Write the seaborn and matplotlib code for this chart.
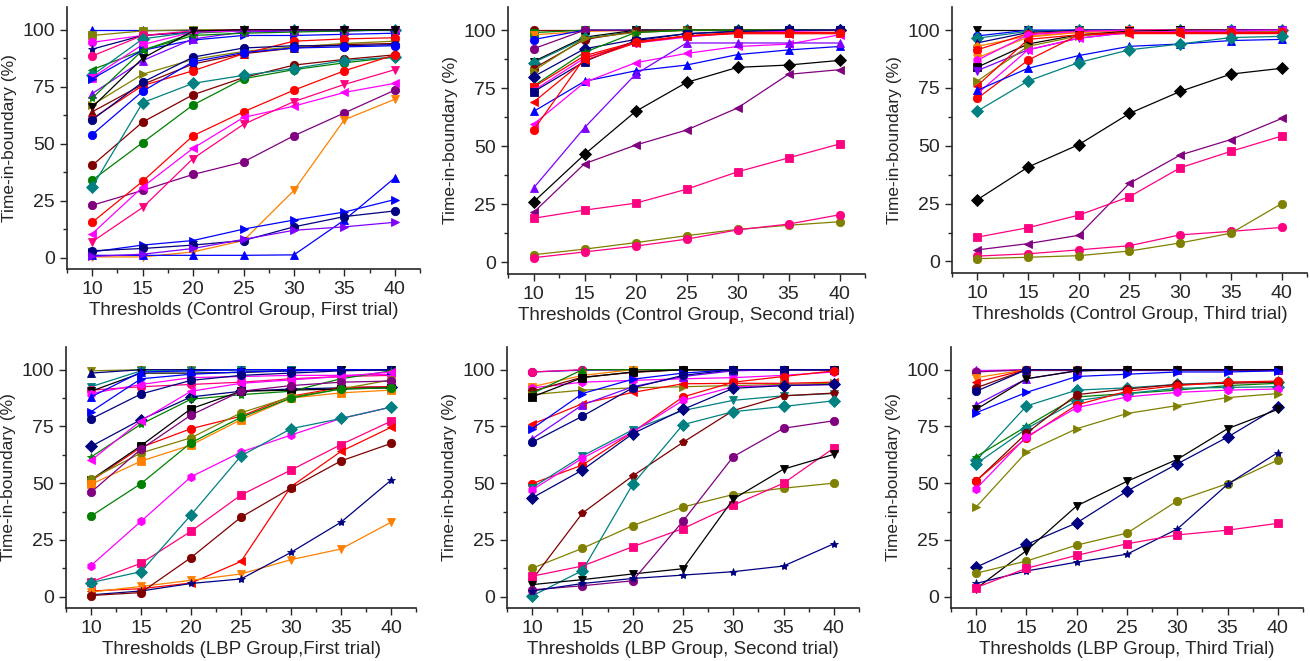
import matplotlib
matplotlib.use('Agg')
import matplotlib.pyplot as plt
import seaborn as sns
import pandas as pd
from matplotlib.ticker import MultipleLocator

thresholds = [10, 15, 20, 25, 30, 35, 40]

COLORS = {
    'black': '#000000', 'red': '#FF0000', 'blue': '#0000FF', 'magenta': '#FF00FF',
    'olive': '#808000', 'navy': '#000080', 'purple': '#800080', 'wine': '#800000',
    'cyan': '#008080', 'green': '#008000', 'orange': '#FF8000', 'violet': '#8000FF',
    'pink': '#FF0080',
}

# Control group, first trial
ctrl_first = [
    [100, 100, 100, 100, 100, 100, 100],
    [97.5, 99.5, 100, 100, 100, 100, 100],
    [94.5, 97.5, 99, 100, 100, 100, 100],
    [91.5, 97.5, 99, 100, 100, 100, 100],
    [88.5, 97.5, 99.5, 100, 100, 100, 100],
    [82.5, 91, 98.5, 99.5, 100, 100, 100],
    [80, 96, 99, 99.5, 100, 100, 100],
    [79, 93.5, 99, 99.5, 100, 100, 100],
    [78.5, 91, 95.5, 97.5, 97.5, 98, 98.5],
    [72, 86.5, 96, 99, 99.5, 99.5, 100],
    [70, 91, 97.5, 98.5, 99, 99.5, 100],
    [67, 80.5, 87, 90.5, 92.5, 94, 95],
    [66, 87.5, 99.5, 100, 100, 100, 100],
    [64, 76, 85, 89.5, 92, 93.5, 94],
    [61, 75.5, 82, 89.5, 95, 96, 96.5],
    [60.5, 77, 88, 92, 93, 93, 93.5],
    [54, 73, 86, 90, 92, 92.5, 93],
    [40.5, 59.5, 71.5, 79, 84.5, 87, 89],
    [34, 50.5, 67, 78.5, 82.5, 85.5, 88],
    [31, 68, 76.5, 80, 83, 86.5, 88],
    [23, 29.5, 36.5, 42, 53.5, 63.5, 73.5],
    [15.5, 33.5, 53.5, 64, 73.5, 82, 89],
    [10.5, 31, 48, 61.5, 66.5, 72.5, 76.5],
    [7, 22, 43.5, 58.5, 68.5, 76, 82.5],
    [0.3, 0.3, 2.5, 7.5, 29.5, 60.5, 69.5],
    [1, 1, 1, 1, 1.2, 16.5, 35],
    [2.5, 5.5, 7.5, 12.5, 16.5, 20, 25.5],
    [3, 4, 5.5, 7.5, 13.5, 18, 20.5],
    [0.5, 1.5, 4, 8, 12, 13.5, 15.5],
]
ctrl_first_style = [
    ('blue', '^'), ('olive', 's'), ('magenta', 'o'), ('navy', '*'), ('pink', 'o'),
    ('green', '<'), ('cyan', 'D'), ('magenta', 's'), ('blue', '>'), ('violet', '^'),
    ('green', '*'), ('olive', '>'), ('black', 'v'), ('wine', '^'), ('red', 'o'),
    ('navy', 'o'), ('blue', 'o'), ('wine', 'o'), ('green', 'o'), ('cyan', 'D'),
    ('purple', 'o'), ('red', 'o'), ('magenta', '<'), ('pink', 'v'), ('orange', 'v'),
    ('blue', '^'), ('blue', '>'), ('navy', 'o'), ('violet', '>'),
]

# Control group, second trial
ctrl_second = [
    [100, 100, 100, 100, 100, 100, 100],
    [99, 100, 100, 100, 100, 100, 100],
    [98, 99.5, 100, 100, 100, 100, 100],
    [96, 100, 100, 100, 100, 100, 100],
    [92, 100, 100, 100, 100, 100, 100],
    [86.5, 97, 100, 100, 100, 100, 100],
    [86, 96.5, 99.5, 100, 100, 100, 100],
    [83.5, 96, 99.5, 100, 100, 100, 100],
    [82.5, 96.5, 99, 100, 100, 100, 100],
    [80, 92, 96, 98.5, 99.5, 100, 100],
    [76, 90.5, 99, 100, 100, 100, 100],
    [75.5, 89, 95, 97.5, 99, 99, 99],
    [74, 88, 94.5, 97, 99, 99.5, 100],
    [73.5, 86.5, 95.5, 98.5, 99.5, 100, 100],
    [69, 87, 94.5, 97.5, 98.5, 98.5, 98.5],
    [65, 78, 82.5, 85, 89.5, 91.5, 93],
    [59.5, 77.5, 86, 90, 93, 94, 98],
    [57, 88, 95, 97.5, 99, 99, 99],
    [32, 58, 81, 94.5, 94.5, 94.5, 94.5],
    [26, 46.5, 65, 77.5, 84, 85, 87],
    [21.5, 42.5, 50.5, 57, 66.5, 81, 83],
    [19, 22.5, 25.5, 31.5, 39, 45, 51],
    [3.3, 5.7, 8.5, 11.5, 14.2, 16, 17.5],
    [2, 4.5, 7, 10, 14, 16.5, 20.5],
]
ctrl_second_style = [
    ('wine', 'o'), ('green', 's'), ('orange', 'v'), ('blue', 'o'), ('purple', 'o'),
    ('black', 'v'), ('cyan', 'D'), ('wine', 'o'), ('olive', '>'), ('navy', 'D'),
    ('green', '*'), ('red', 's'), ('magenta', 'h'), ('navy', 's'), ('red', '<'),
    ('blue', '^'), ('magenta', '<'), ('red', 'o'), ('violet', '^'), ('black', 'D'),
    ('purple', '<'), ('pink', 's'), ('olive', 'o'), ('pink', 'o'),
]

# Control group, third trial
ctrl_third = [
    [100, 100, 100, 100, 100, 100, 100],
    [97.5, 100, 100, 100, 100, 100, 100],
    [96.5, 99.5, 100, 100, 100, 100, 100],
    [94.5, 99, 100, 100, 100, 100, 100],
    [93, 97.5, 99, 99.5, 100, 100, 100],
    [91.5, 98.5, 99.5, 100, 100, 100, 100],
    [88, 97, 99, 100, 100, 100, 100],
    [87, 98, 99.5, 100, 100, 100, 100],
    [84, 94, 98, 99.5, 100, 100, 100],
    [82.5, 91.5, 96.5, 99, 99.5, 100, 100],
    [78, 93, 97.5, 99, 99.5, 99.5, 99.5],
    [76, 96, 98, 98.5, 98.5, 98.5, 98.5],
    [72.5, 91.5, 96.5, 99, 99.5, 99.5, 100],
    [70.5, 87, 98, 99, 99, 99, 99],
    [74, 83.5, 89, 93, 94, 95.5, 96],
    [65, 78, 86, 91.5, 94, 96.8, 97.3],
    [26.7, 40.8, 50.5, 64, 73.5, 81, 83.5],
    [5, 7.7, 11.3, 33.8, 46, 52.7, 61.8],
    [10.5, 14.6, 20, 28, 40.5, 47.6, 54.2],
    [2.3, 3.3, 5, 6.8, 11.5, 13, 14.7],
    [1.2, 1.8, 2.5, 4.5, 8, 12.2, 25],
]
ctrl_third_style = [
    ('black', 'v'), ('blue', 'o'), ('cyan', 'D'), ('navy', '^'), ('orange', 'p'),
    ('red', 'o'), ('orange', 'v'), ('magenta', 'h'), ('black', 's'), ('violet', 'v'),
    ('olive', '>'), ('red', '<'), ('magenta', '<'), ('red', 'o'), ('blue', '^'),
    ('cyan', 'D'), ('black', 'D'), ('purple', '<'), ('pink', 's'), ('pink', 'o'),
    ('olive', 'o'),
]

# LBP group, first trial
lbp_first = [
    [99.5, 100, 100, 100, 100, 100, 100],
    [98.5, 100, 100, 100, 100, 100, 100],
    [92.5, 99.5, 99.5, 100, 100, 100, 100],
    [91, 92.5, 93.5, 94.5, 96, 97, 97.5],
    [90.5, 98.5, 98.5, 98.8, 99.5, 100, 100],
    [89.5, 93.5, 96.5, 97, 97.5, 97.5, 98],
    [88, 99, 99.5, 100, 100, 100, 100],
    [81.5, 96, 98, 99, 99.5, 100, 100],
    [78.3, 89.3, 95.3, 97.5, 98.5, 99.5, 100],
    [66.2, 78, 88, 90.5, 91.5, 92, 92.5],
    [61.5, 76, 87, 89, 90.5, 96, 99.5],
    [60, 77.5, 90.5, 94, 95.5, 97, 99],
    [51, 65.8, 74, 79.5, 88.3, 92.2, 92.5],
    [51.5, 66.5, 82.8, 90.5, 91, 91.5, 92],
    [51.8, 63.3, 70, 81, 88, 91.5, 95.5],
    [49.5, 59.7, 66.8, 78, 87.5, 89.8, 91],
    [46, 65, 80, 90.5, 93, 94.5, 95],
    [35.5, 49.8, 67.8, 79, 87.5, 91.5, 92],
    [13.7, 33.2, 52.8, 63.7, 71.2, 78.5, 83.5],
    [6.5, 14.7, 28.8, 44.8, 55.8, 67, 77.3],
    [6.2, 11, 36, 62, 74, 78.5, 83.5],
    [2.5, 3.5, 6, 15.5, 48.5, 64, 74.6],
    [2, 4.5, 7.2, 10, 16.3, 21, 32.8],
    [0.8, 2.5, 5.8, 7.8, 19.5, 32.8, 51.3],
    [0.5, 1.8, 17.2, 35, 47.8, 59.8, 67.5],
]
lbp_first_style = [
    ('olive', 'v'), ('navy', '^'), ('cyan', 'v'), ('pink', 'o'), ('black', 'v'),
    ('magenta', 'h'), ('blue', '^'), ('blue', '>'), ('navy', 'o'), ('navy', 'D'),
    ('green', '*'), ('magenta', '<'), ('red', 'o'), ('black', 's'), ('olive', 'o'),
    ('orange', 's'), ('purple', 'o'), ('green', 'o'), ('magenta', 'h'), ('pink', 's'),
    ('cyan', 'D'), ('red', '<'), ('orange', 'v'), ('navy', '*'), ('wine', 'o'),
]

# LBP group, second trial
lbp_second = [
    [99, 99.8, 100, 100, 100, 100, 100],
    [99, 100, 100, 100, 100, 100, 100],
    [92.5, 97.5, 100, 100, 100, 100, 100],
    [92, 94.5, 95.3, 96, 96.5, 97.5, 99],
    [90.5, 96.7, 98.8, 100, 100, 100, 100],
    [89.5, 100, 100, 100, 100, 100, 100],
    [89, 91, 92, 92.5, 93, 93.5, 94],
    [88, 96.5, 99, 100, 100, 100, 100],
    [76, 85, 90, 93.8, 94, 94, 94.5],
    [74, 89.5, 95.8, 98.5, 100, 100, 100],
    [69.5, 84.5, 92.5, 97, 99.5, 100, 100],
    [68, 79.5, 92, 97.5, 100, 100, 100],
    [49.8, 58, 72.5, 88, 94.5, 97, 99.5],
    [48, 62, 73.5, 82, 86.5, 88.5, 89.5],
    [47, 61, 72.5, 86.5, 92.5, 93, 93.5],
    [43.5, 55.8, 71.8, 82.5, 91.8, 93, 93.5],
    [12.5, 21.3, 31.3, 39.5, 45, 47.8, 50],
    [7.5, 36.8, 53.2, 68, 82, 88.5, 89.7],
    [9, 13.5, 22, 30, 40.3, 50, 65.5],
    [0.3, 11.5, 49.5, 75.8, 81.5, 83.8, 86.3],
    [5.3, 7.5, 10, 12.3, 43, 56.2, 62.7],
    [3, 4.8, 7, 33.3, 61.7, 74.2, 77.5],
    [2.5, 5.8, 8, 9.5, 11, 13.5, 23.3],
]
lbp_second_style = [
    ('blue', 'o'), ('pink', 'o'), ('orange', 's'), ('magenta', 'h'), ('wine', 'o'),
    ('green', '^'), ('olive', '>'), ('black', 's'), ('red', '<'), ('blue', '>'),
    ('violet', '^'), ('navy', 'o'), ('red', 'o'), ('cyan', 'v'), ('magenta', 'h'),
    ('navy', 'D'), ('olive', 'o'), ('wine', 'p'), ('pink', 's'), ('cyan', 'D'),
    ('black', 'v'), ('purple', 'o'), ('navy', '*'),
]

# LBP group, third trial
lbp_third = [
    [100, 100, 100, 100, 100, 100, 100],
    [99.5, 100, 100, 100, 100, 100, 100],
    [99, 100, 100, 100, 100, 100, 100],
    [96.5, 100, 100, 100, 100, 100, 100],
    [94.5, 100, 100, 100, 100, 100, 100],
    [92, 100, 100, 100, 100, 100, 100],
    [90.5, 100, 100, 100, 100, 100, 100],
    [84.5, 96, 99.5, 100, 100, 100, 100],
    [82.5, 96, 99.5, 100, 100, 100, 100],
    [81, 90, 97, 98, 99, 99, 99.5],
    [60, 84, 91, 92, 93.5, 94.5, 94.5],
    [61.7, 75, 88, 89.5, 91, 93, 94],
    [58.5, 74, 86.3, 89.5, 91.8, 92.2, 92.5],
    [51, 72, 89, 91.5, 93.5, 94, 94.5],
    [51, 70, 84.5, 90.5, 93, 94.5, 95],
    [47.5, 70.5, 83.3, 88, 90, 91, 91.5],
    [39.5, 63.7, 74, 80.7, 84.2, 87.7, 89.5],
    [13, 23, 32.5, 46.5, 58.5, 70.3, 83.5],
    [3.5, 20.3, 40, 50.8, 60.5, 74, 82.5],
    [10.3, 15.7, 22.7, 28, 42.2, 49.8, 60.2],
    [5.8, 11.3, 15.2, 18.7, 29.8, 49.5, 63.5],
    [4, 12.5, 18.2, 23.3, 27.2, 29.3, 32.3],
]
lbp_third_style = [
    ('blue', '^'), ('magenta', 'h'), ('purple', 'o'), ('orange', 'v'), ('red', '<'),
    ('wine', 'o'), ('navy', 'o'), ('violet', '^'), ('black', 'v'), ('blue', '>'),
    ('cyan', 'D'), ('green', '*'), ('cyan', 'D'), ('wine', 'o'), ('red', 'o'),
    ('magenta', 'h'), ('olive', '>'), ('navy', 'D'), ('black', 'v'), ('olive', 'o'),
    ('navy', '*'), ('pink', 's'),
]

panels = [
    (ctrl_first, ctrl_first_style, 'Thresholds (Control Group, First trial)'),
    (ctrl_second, ctrl_second_style, 'Thresholds (Control Group, Second trial)'),
    (ctrl_third, ctrl_third_style, 'Thresholds (Control Group, Third trial)'),
    (lbp_first, lbp_first_style, 'Thresholds (LBP Group,First trial)'),
    (lbp_second, lbp_second_style, 'Thresholds (LBP Group, Second trial)'),
    (lbp_third, lbp_third_style, 'Thresholds (LBP Group, Third Trial)'),
]

# axes boxes in pixels: left, right, top, bottom
boxes = [
    (67, 420, 7, 269), (508, 865, 7, 274), (952, 1307, 7, 273),
    (66, 416, 347, 608), (507, 859, 347, 608), (951, 1303, 347, 608),
]

sns.set_style('ticks')
plt.rcParams['font.family'] = ['Liberation Sans', 'DejaVu Sans']

W, H = 1310, 661
fig = plt.figure(figsize=(W / 100, H / 100), dpi=100)

for (series, styles, xlabel), (l, r, t, b) in zip(panels, boxes):
    ax = fig.add_axes([l / W, (H - b) / H, (r - l) / W, (b - t) / H])
    rows = []
    for i, vals in enumerate(series):
        for x, v in zip(thresholds, vals):
            rows.append({'sid': i, 'threshold': x, 'tib': v})
    df = pd.DataFrame(rows)
    palette = {i: COLORS[c] for i, (c, m) in enumerate(styles)}
    markers = {i: m for i, (c, m) in enumerate(styles)}
    sns.lineplot(data=df, x='threshold', y='tib', hue='sid', style='sid',
                 palette=palette, markers=markers, dashes=False, legend=False,
                 markersize=6, linewidth=0.9, markeredgewidth=0.6, ax=ax)
    # marker edges same as face colour
    for line in ax.get_lines():
        line.set_markeredgecolor(line.get_color())

    ax.set_xlim(7.5, 42.5)
    ax.set_ylim(-5, 110)
    ax.set_xticks(thresholds)
    ax.set_yticks([0, 25, 50, 75, 100])
    ax.xaxis.set_minor_locator(MultipleLocator(2.5))
    ax.yaxis.set_minor_locator(MultipleLocator(12.5))
    ax.tick_params(which='major', direction='out', length=5, width=1, labelsize=14)
    ax.tick_params(which='minor', direction='out', length=3, width=1)
    for side in ['top', 'right']:
        ax.spines[side].set_visible(False)
    for side in ['left', 'bottom']:
        ax.spines[side].set_linewidth(1.2)
    ax.set_xlabel(xlabel, fontsize=13.5, labelpad=3)
    ax.set_ylabel('Time-in-boundary (%)', fontsize=12.5, labelpad=4)

fig.savefig('out.png', dpi=100)
